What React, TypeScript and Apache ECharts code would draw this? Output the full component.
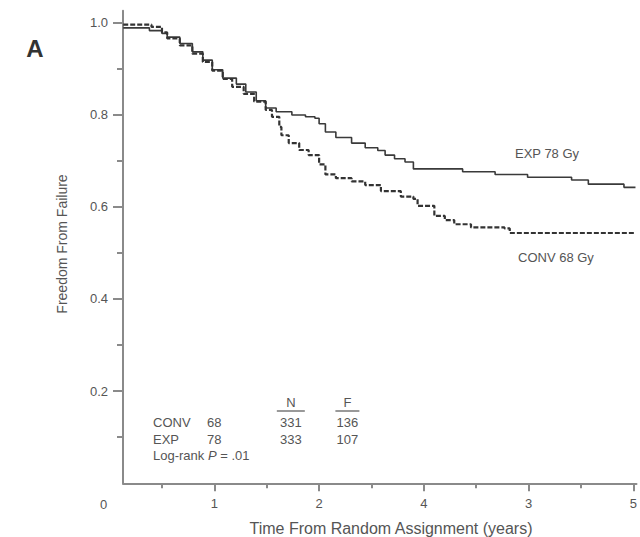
import React, { useEffect, useRef } from "react";
import * as echarts from "echarts";

// EXP 78 Gy (solid) Kaplan-Meier estimates: [years, freedom from failure]
const expTimes = [0.13, 0.38, 0.5, 0.55, 0.67, 0.79, 0.89, 0.98, 1.08, 1.21, 1.3, 1.4, 1.49, 1.59, 1.74, 1.87, 1.96, 2.0, 2.06, 2.16, 2.31, 2.44, 2.56, 2.63, 2.72, 2.82, 2.9, 3.37, 3.68, 3.99, 4.41, 4.57, 4.91, 5.02];
const expValues = [0.988, 0.982, 0.976, 0.968, 0.954, 0.936, 0.918, 0.897, 0.879, 0.866, 0.849, 0.83, 0.814, 0.806, 0.799, 0.795, 0.792, 0.78, 0.762, 0.75, 0.738, 0.728, 0.722, 0.712, 0.704, 0.697, 0.682, 0.676, 0.67, 0.664, 0.658, 0.649, 0.642, 0.642];

// CONV 68 Gy (dashed)
const convTimes = [0.13, 0.28, 0.4, 0.5, 0.55, 0.67, 0.79, 0.89, 0.98, 1.08, 1.17, 1.28, 1.38, 1.49, 1.55, 1.62, 1.64, 1.71, 1.81, 1.9, 2.0, 2.06, 2.16, 2.31, 2.44, 2.59, 2.78, 2.9, 2.94, 3.1, 3.2, 3.29, 3.45, 3.77, 3.82, 5.02];
const convValues = [0.995, 0.995, 0.99, 0.978, 0.965, 0.95, 0.932, 0.914, 0.895, 0.877, 0.86, 0.845, 0.828, 0.81, 0.795, 0.773, 0.755, 0.738, 0.723, 0.712, 0.692, 0.67, 0.662, 0.655, 0.647, 0.634, 0.622, 0.617, 0.602, 0.58, 0.571, 0.562, 0.555, 0.553, 0.543, 0.543];

// Axis ticks and labels (as printed)
const xMajorTicks = [1, 2, 3, 4, 5];
const xTickLabels = ["1", "2", "4", "3", "5"];
const xMinorTicks = [0.5, 1.5, 2.5, 3.5, 4.5];
const yMajorTicks = [0.2, 0.4, 0.6, 0.8, 1.0];
const yMinorTicks = [0.1, 0.3, 0.5, 0.7, 0.9];

// Table
const tableGroups = ["CONV", "EXP"];
const tableDoses = ["68", "78"];
const tableN = ["331", "333"];
const tableF = ["136", "107"];

const X_MIN = 0.128;
const X_MAX = 5.03;
const Y_MIN = 0;
const Y_MAX = 1.025;

const FONT = "Liberation Sans, Arial, Helvetica, sans-serif";
const TXT = "#555";
const AX = "#8a8a8a";

export default function App() {
  const ref = useRef<HTMLDivElement>(null);
  useEffect(() => {
    if (!ref.current) return;
    const chart = echarts.init(ref.current, null, { renderer: "svg" });
    const expData = expTimes.map((t, i) => [t, expValues[i]]);
    const convData = convTimes.map((t, i) => [t, convValues[i]]);
    const labelMap: Record<string, string> = {};
    xMajorTicks.forEach((v, i) => (labelMap[String(v)] = xTickLabels[i]));

    const baseX = {
      type: "value",
      min: X_MIN,
      max: X_MAX,
      position: "bottom",
      splitLine: { show: false },
    };
    const baseY = {
      type: "value",
      min: Y_MIN,
      max: Y_MAX,
      position: "left",
      splitLine: { show: false },
    };

    chart.setOption({
      animation: false,
      grid: { left: 123, right: 0, top: 10.8, bottom: 53.7, containLabel: false },
      xAxis: [
        {
          ...baseX,
          axisLine: { show: true, onZero: false, lineStyle: { color: AX, width: 2 } },
          axisTick: { show: true, customValues: xMajorTicks, length: 8, lineStyle: { color: AX, width: 2 } },
          axisLabel: {
            show: true,
            customValues: xMajorTicks,
            margin: 14,
            color: TXT,
            fontSize: 13,
            fontFamily: FONT,
            formatter: (v: number) => labelMap[String(Math.round(v))] ?? "",
          },
        },
        {
          ...baseX,
          axisLine: { show: false, onZero: false },
          axisTick: { show: true, customValues: xMinorTicks, length: 5, lineStyle: { color: AX, width: 2 } },
          axisLabel: { show: false },
        },
      ],
      yAxis: [
        {
          ...baseY,
          axisLine: { show: true, onZero: false, lineStyle: { color: AX, width: 2 } },
          axisTick: { show: true, customValues: yMajorTicks, length: 10, lineStyle: { color: AX, width: 2 } },
          axisLabel: {
            show: true,
            customValues: yMajorTicks,
            margin: 15,
            color: TXT,
            fontSize: 13,
            fontFamily: FONT,
            formatter: (v: number) => v.toFixed(1),
          },
        },
        {
          ...baseY,
          axisLine: { show: false, onZero: false },
          axisTick: { show: true, customValues: yMinorTicks, length: 6, lineStyle: { color: AX, width: 2 } },
          axisLabel: { show: false },
        },
      ],
      series: [
        {
          name: "EXP 78 Gy",
          type: "line",
          step: "end",
          data: expData,
          xAxisIndex: 0,
          yAxisIndex: 0,
          showSymbol: false,
          lineStyle: { color: "#3a3a3a", width: 1.6 },
        },
        {
          name: "CONV 68 Gy",
          type: "line",
          step: "end",
          data: convData,
          xAxisIndex: 0,
          yAxisIndex: 0,
          showSymbol: false,
          lineStyle: { color: "#333", width: 2.2, type: [5, 2] },
        },
      ],
    });

    const zeroX = chart.convertToPixel({ xAxisIndex: 0 }, 0) as number;
    const axisY = chart.convertToPixel({ yAxisIndex: 0 }, 0) as number;
    const nX = chart.convertToPixel({ xAxisIndex: 0 }, 1.73) as number;
    const fX = chart.convertToPixel({ xAxisIndex: 0 }, 2.27) as number;

    const txt = (text: string, x: number, y: number, extra: any = {}) => ({
      type: "text",
      x,
      y,
      style: {
        text,
        fill: TXT,
        font: `13px ${FONT}`,
        textVerticalAlign: "middle",
        ...extra,
      },
    });

    const graphic: any[] = [
      {
        type: "text",
        x: 35,
        y: 48,
        style: {
          text: "A",
          fill: "#333",
          font: `bold 24px ${FONT}`,
          textAlign: "center",
          textVerticalAlign: "middle",
        },
      },
      txt("0", zeroX - 6, axisY + 21, { textAlign: "center" }),
      {
        type: "text",
        x: 62,
        y: 244,
        rotation: Math.PI / 2,
        style: {
          text: "Freedom From Failure",
          fill: TXT,
          font: `14px ${FONT}`,
          textAlign: "center",
          textVerticalAlign: "middle",
        },
      },
      txt("Time From Random Assignment (years)", 391, 528, { textAlign: "center", font: `16px ${FONT}` }),
      txt("EXP 78 Gy", 515, 153),
      txt("CONV 68 Gy", 518, 257),
      txt("N", nX, 402, { textAlign: "center" }),
      txt("F", fX, 402, { textAlign: "center" }),
      { type: "line", shape: { x1: nX - 14, y1: 411, x2: nX + 14, y2: 411 }, style: { stroke: TXT, lineWidth: 1.2 } },
      { type: "line", shape: { x1: fX - 12, y1: 411, x2: fX + 12, y2: 411 }, style: { stroke: TXT, lineWidth: 1.2 } },
    ];
    tableGroups.forEach((g, i) => {
      const y = 422 + i * 17;
      graphic.push(txt(g, 153, y));
      graphic.push(txt(tableDoses[i], 207, y));
      graphic.push(txt(tableN[i], nX, y, { textAlign: "center" }));
      graphic.push(txt(tableF[i], fX, y, { textAlign: "center" }));
    });
    graphic.push({
      type: "text",
      x: 153,
      y: 455,
      style: {
        text: "Log-rank {i|P} = .01",
        fill: TXT,
        font: `13px ${FONT}`,
        textVerticalAlign: "middle",
        rich: { i: { fontStyle: "italic", fontSize: 13, fontFamily: FONT, fill: TXT } },
      },
    });

    chart.setOption({ graphic });

    return () => chart.dispose();
  }, []);
  return (
    <div
      ref={ref}
      style={{ position: "fixed", left: 0, top: 0, width: 640, height: 537, background: "#fff" }}
    />
  );
}
